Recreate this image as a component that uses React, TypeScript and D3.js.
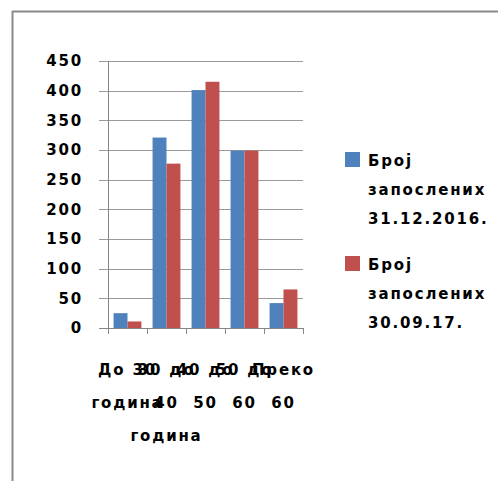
import React from "react";
import * as d3 from "d3";

const categories = ["До 30 година", "30 до 40 година", "40 до 50", "50 до 60", "Преко 60"];
const labelLines = [["До 30", "година"], ["30 до", "40", "година"], ["40 до", "50"], ["50 до", "60"], ["Преко", "60"]];
const series1 = [25, 321, 401, 299, 42];
const series2 = [11, 277, 415, 299, 65];
const seriesNames = [["Број", "запослених", "31.12.2016."], ["Број", "запослених", "30.09.17."]];
const yTicks = [0, 50, 100, 150, 200, 250, 300, 350, 400, 450];
const colors = ["#4F81BD", "#C0504D"];

export default function App() {
  const W = 498, H = 481;
  const left = 108, right = 303, top = 61, bottom = 328;
  const x = d3.scaleBand().domain(categories).range([left, right]).paddingInner(0).paddingOuter(0);
  const y = d3.scaleLinear().domain([0, 450]).range([bottom, top]);
  const inner = d3.scaleBand().domain(["a", "b"]).range([0, x.bandwidth()]).paddingOuter(0.4).paddingInner(0);
  const font = "'DejaVu Sans', sans-serif";
  const fs = 15;
  const ls = 1.8;
  const boundaries = [...categories.map((c) => x(c) as number), right];
  return (
    <svg width={W} height={H} style={{ position: "absolute", left: 0, top: 0 }}>
      <rect x={0} y={0} width={W} height={H} fill="#fff" />
      <line x1={12} y1={11.5} x2={W} y2={11.5} stroke="#8a8a8a" strokeWidth={2} />
      <line x1={12.5} y1={11} x2={12.5} y2={H} stroke="#8a8a8a" strokeWidth={2} />
      {yTicks.map((t) => (
        <g key={t}>
          <line x1={left - 9} x2={right} y1={Math.round(y(t)) + 0.5} y2={Math.round(y(t)) + 0.5} stroke={t === 0 ? "#868686" : "#9a9a9a"} strokeWidth={1} />
          <text x={83} y={y(t)} dy="0.36em" textAnchor="end" fontFamily={font} fontWeight="bold" fontSize={fs} letterSpacing={ls} fill="#000">{t}</text>
        </g>
      ))}
      <line x1={left + 0.5} x2={left + 0.5} y1={top} y2={bottom} stroke="#868686" />
      {boundaries.map((b, i) => (
        <line key={i} x1={Math.round(b) + 0.5} x2={Math.round(b) + 0.5} y1={bottom} y2={bottom + 6} stroke="#868686" />
      ))}
      {categories.map((c, i) => (
        <g key={c}>
          <rect x={(x(c) as number) + (inner("a") as number)} y={y(series1[i])} width={inner.bandwidth()} height={bottom - y(series1[i])} fill={colors[0]} />
          <rect x={(x(c) as number) + (inner("b") as number)} y={y(series2[i])} width={inner.bandwidth()} height={bottom - y(series2[i])} fill={colors[1]} />
          {labelLines[i].map((l, j) => (
            <text key={j} x={(x(c) as number) + x.bandwidth() / 2} y={370 + j * 33} dy="0.36em" textAnchor="middle" fontFamily={font} fontWeight="bold" fontSize={fs} letterSpacing={ls} fill="#000">{l}</text>
          ))}
        </g>
      ))}
      {seriesNames.map((lines, i) => (
        <g key={i} transform={`translate(345, ${152 + i * 104})`}>
          <rect x={0} y={0} width={15} height={15} fill={colors[i]} />
          {lines.map((l, j) => (
            <text key={j} x={23} y={9 + j * 29} dy="0.36em" fontFamily={font} fontWeight="bold" fontSize={fs} letterSpacing={ls} fill="#000">{l}</text>
          ))}
        </g>
      ))}
    </svg>
  );
}
